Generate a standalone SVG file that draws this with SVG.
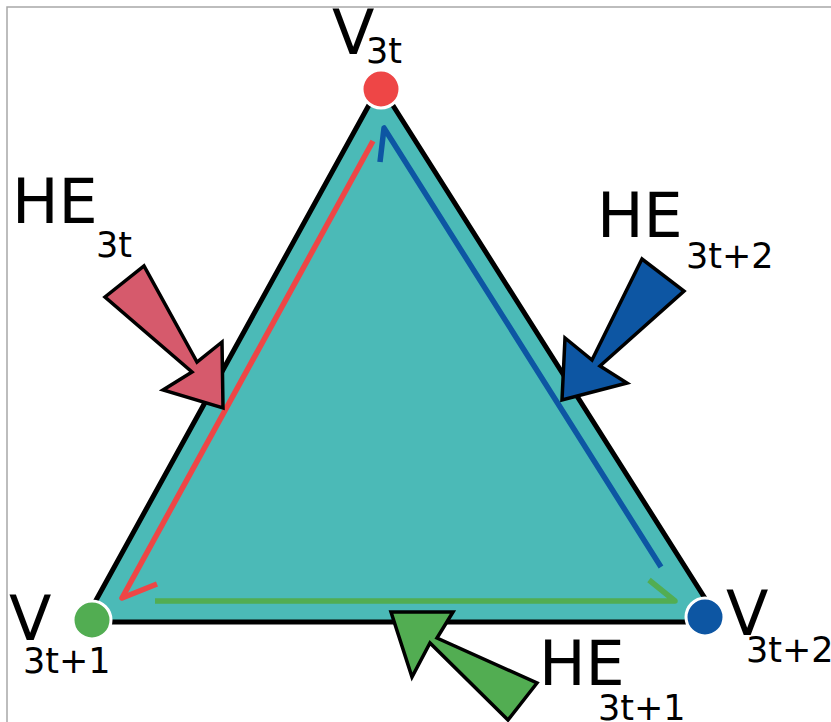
<svg xmlns="http://www.w3.org/2000/svg" width="831" height="722" viewBox="0 0 831 722">
<style>
.lbl{font-family:"DejaVu Sans","Verdana",sans-serif;fill:#000}
.big{font-size:62px}
.sub{font-size:35px}
.he{fill:none;stroke-width:5.5;stroke-linejoin:round;stroke-linecap:butt}
.ptr{stroke:#000;stroke-width:3.5;stroke-linejoin:miter}
.vtx{stroke:#fff;stroke-width:3}
</style>
<rect x="0" y="0" width="831" height="722" fill="#fff"/>
<rect x="7" y="7" width="840" height="740" fill="none" stroke="#a8a8a8" stroke-width="1.5"/>
<g id="face">
<polygon points="380,85 84,622 720,622" fill="#4bbab7" stroke="#000" stroke-width="5" stroke-linejoin="round"/>
</g>
<g id="connectors">
<polyline id="he3t" class="he" stroke="#ee4646" points="373,141 122,598 157,584"/>
<polyline id="he3t2" class="he" stroke="#0d56a3" points="661,567 384,128 380,162"/>
<polyline id="he3t1" class="he" stroke="#52ad52" points="155,601 675,601 649,580"/>
</g>
<g id="v3t">
<circle class="vtx" cx="381" cy="89" r="19" fill="#ee4646"/>
<text class="lbl big" x="332" y="54">V</text>
<text class="lbl sub" x="366" y="63">3t</text>
</g>
<g id="v3t1">
<circle class="vtx" cx="92" cy="620" r="19" fill="#52ad52"/>
<text class="lbl big" x="9" y="640">V</text>
<text class="lbl sub" x="23" y="673">3t+1</text>
</g>
<g id="v3t2">
<circle class="vtx" cx="705" cy="617" r="19" fill="#0d56a3"/>
<text class="lbl big" x="726" y="635">V</text>
<text class="lbl sub" x="746" y="662">3t+2</text>
</g>
<g id="label-he3t">
<polygon class="ptr" fill="#d65a6c" points="223,408 222,342 197,362 144,266 105,297 192,372 163,390"/>
<text class="lbl big" x="12" y="223">HE</text>
<text class="lbl sub" x="96" y="257">3t</text>
</g>
<g id="label-he3t2">
<polygon class="ptr" fill="#0d56a3" points="562,400 565,338 592,360 642,259 684,291 600,366 627,383"/>
<text class="lbl big" x="597" y="237">HE</text>
<text class="lbl sub" x="686" y="268">3t+2</text>
</g>
<g id="label-he3t1">
<polygon class="ptr" fill="#52ad52" points="391,612 453,612 437,638 537,683 508,720 430,643 412,677"/>
<text class="lbl big" x="539" y="685">HE</text>
<text class="lbl sub" x="598" y="720">3t+1</text>
</g>
</svg>
